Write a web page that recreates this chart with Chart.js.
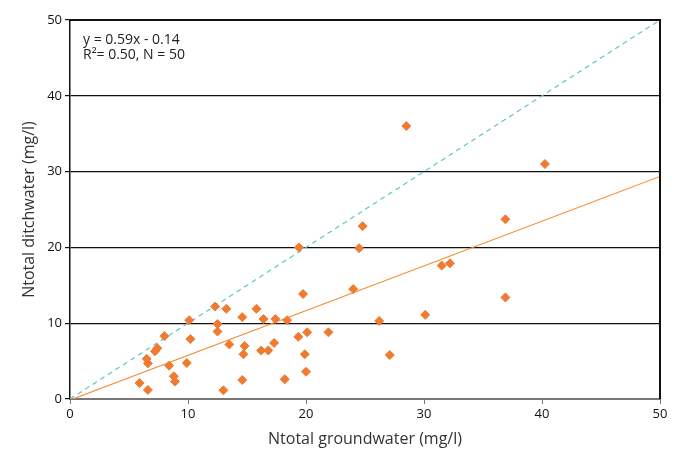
<!DOCTYPE html>
<html>
<head>
<meta charset="utf-8">
<script src="https://cdn.jsdelivr.net/npm/chart.js@4"></script>
<style>
  body { margin: 0; background: #fff; }
  #wrap { width: 686px; height: 455px; }
</style>
</head>
<body>
<div id="wrap"><canvas id="myChart"></canvas></div>
<script>
// groundwater vs ditchwater N (mg/l)
const groundwater = [28.5, 40.25, 36.9, 24.8, 24.5, 19.4, 31.5, 32.2, 24.0, 19.75,
  36.9, 30.1, 26.2, 27.1, 21.9, 20.1, 19.35, 19.9, 20.0, 18.2,
  18.4, 17.4, 16.4, 15.8, 14.6, 13.25, 12.3, 10.1, 12.5, 12.5,
  10.2, 13.5, 14.8, 17.3, 16.2, 16.8, 14.7, 9.9, 14.6, 13.0,
  8.0, 7.4, 7.2, 6.5, 6.6, 8.4, 8.8, 8.9, 5.9, 6.6];
const ditchwater = [36.0, 31.0, 23.7, 22.8, 19.9, 20.0, 17.6, 17.9, 14.5, 13.85,
  13.4, 11.1, 10.3, 5.8, 8.8, 8.8, 8.2, 5.9, 3.6, 2.6,
  10.4, 10.55, 10.55, 11.9, 10.8, 11.9, 12.2, 10.4, 9.9, 8.9,
  7.9, 7.2, 7.0, 7.4, 6.4, 6.4, 5.9, 4.75, 2.5, 1.15,
  8.3, 6.7, 6.3, 5.3, 4.7, 4.4, 3.0, 2.3, 2.1, 1.2];

const slope = 0.59;
const intercept = -0.14;
const axisMin = 0;
const axisMax = 50;
const yTicks = [0, 10, 20, 30, 40, 50];
const eqLines = ["y = 0.59x - 0.14", "R\u00b2= 0.50, N = 50"];

const points = groundwater.map((g, i) => ({ x: g, y: ditchwater[i] }));
const fitLine = [
  { x: axisMin, y: slope * axisMin + intercept },
  { x: axisMax, y: slope * axisMax + intercept },
];
const oneToOne = [
  { x: axisMin, y: axisMin },
  { x: axisMax, y: axisMax },
];

const fontFam = "'Open Sans', sans-serif";

// frame around the plot + the equation text
const framePlugin = {
  id: "frame",
  afterDatasetsDraw(chart) {
    const { ctx, chartArea } = chart;
    ctx.save();
    ctx.strokeStyle = "#111";
    ctx.lineWidth = 2;
    ctx.beginPath();
    ctx.moveTo(chartArea.left, chartArea.top);
    ctx.lineTo(chartArea.right, chartArea.top);
    ctx.lineTo(chartArea.right, chartArea.bottom);
    ctx.stroke();
    ctx.fillStyle = "#222";
    ctx.font = "14px " + fontFam;
    ctx.textBaseline = "middle";
    eqLines.forEach((t, i) => {
      ctx.fillText(t, chartArea.left + 13, chartArea.top + 20 + i * 15);
    });
    ctx.restore();
  },
};

const config = {
  type: "scatter",
  data: {
    datasets: [
      {
        label: "samples",
        data: points,
        pointStyle: "rectRot",
        pointRadius: 4.5,
        backgroundColor: "#ef7b30",
        borderColor: "#ef7b30",
        borderWidth: 1,
        order: 0,
      },
      {
        label: "fit",
        data: fitLine,
        showLine: true,
        pointRadius: 0,
        borderColor: "#f39237",
        borderWidth: 1.2,
        order: 1,
      },
      {
        label: "1:1",
        data: oneToOne,
        showLine: true,
        pointRadius: 0,
        borderColor: "#62c3cc",
        borderWidth: 1.2,
        borderDash: [5, 4],
        order: 2,
      },
    ],
  },
  options: {
    responsive: true,
    maintainAspectRatio: false,
    animation: false,
    layout: { padding: { top: 20, right: 26, left: 0, bottom: 0 } },
    plugins: {
      legend: { display: false },
      tooltip: { enabled: false },
    },
    scales: {
      x: {
        min: axisMin,
        max: axisMax,
        afterFit: (s) => { s.height = 56; },
        ticks: {
          stepSize: 10,
          color: "#111",
          font: { family: fontFam, size: 13 },
          padding: 2,
          maxRotation: 0,
        },
        grid: {
          drawOnChartArea: false,
          drawTicks: true,
          tickLength: 5,
          color: "#777",
        },
        border: { color: "#777", width: 2 },
        title: {
          display: true,
          text: "Ntotal groundwater (mg/l)",
          color: "#333",
          font: { family: fontFam, size: 16 },
          padding: { top: 0, bottom: 6 },
        },
      },
      y: {
        min: axisMin,
        max: axisMax,
        afterFit: (s) => { s.width = 70; },
        afterBuildTicks: (s) => { s.ticks = yTicks.map((v) => ({ value: v })); },
        ticks: {
          color: "#111",
          font: { family: fontFam, size: 13 },
          padding: 3,
        },
        grid: {
          color: "#111",
          lineWidth: 1.2,
          tickLength: 5,
        },
        border: { color: "#111", width: 1.5 },
        title: {
          display: true,
          text: "Ntotal ditchwater (mg/l)",
          color: "#333",
          font: { family: fontFam, size: 16 },
          padding: { top: 20, bottom: 0 },
        },
      },
    },
  },
  plugins: [framePlugin],
};

const myChart = new Chart(document.getElementById("myChart"), config);
</script>
</body>
</html>
